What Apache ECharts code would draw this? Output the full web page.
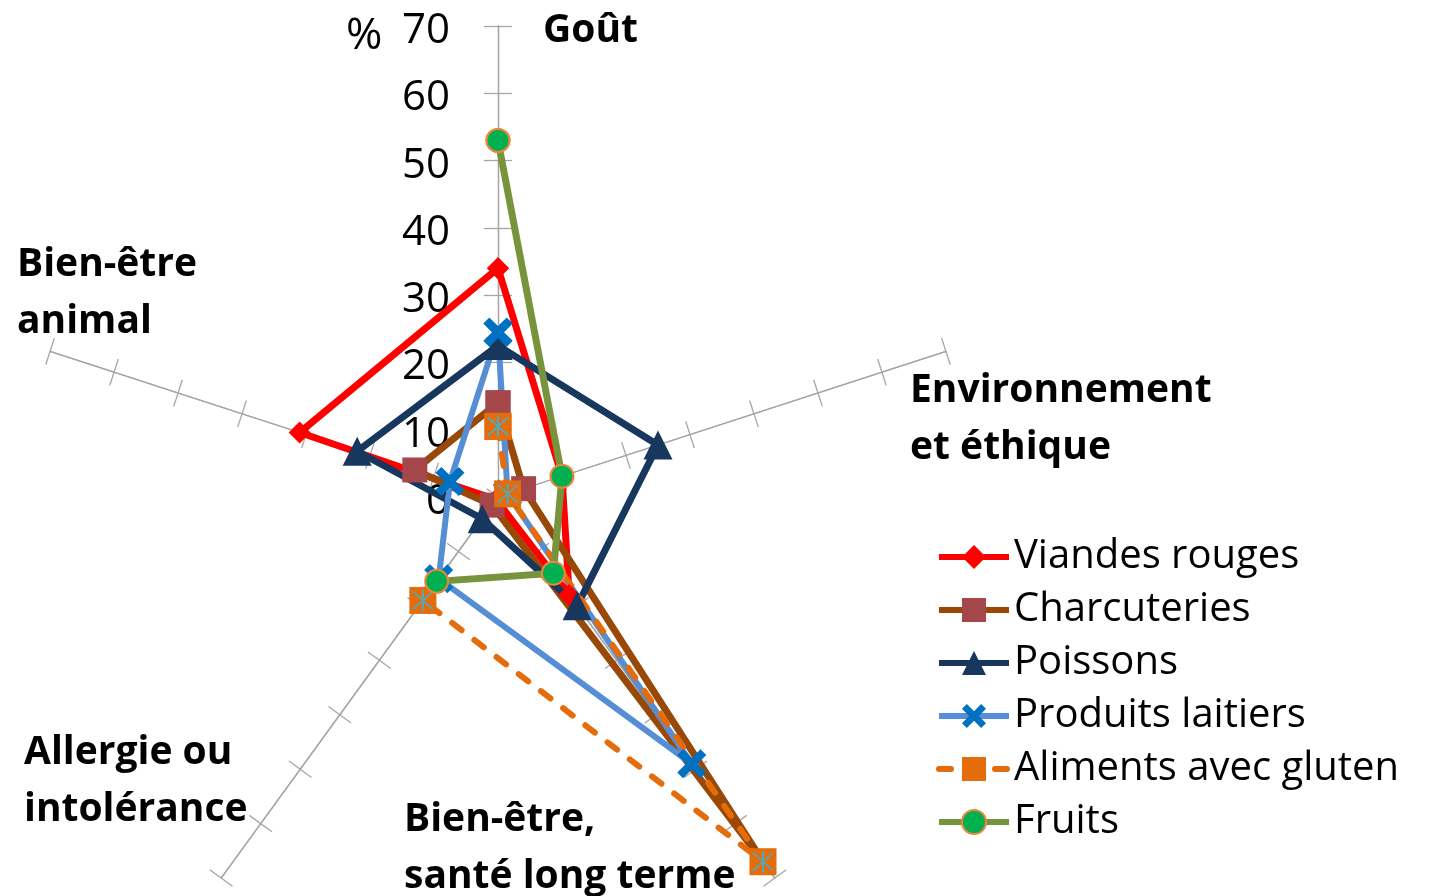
<!DOCTYPE html>
<html><head><meta charset="utf-8">
<script src="https://cdn.jsdelivr.net/npm/echarts@6/dist/echarts.min.js"></script>
<style>html,body{margin:0;padding:0;background:#fff}#c{width:1429px;height:896px}</style>
</head><body><div id="c"></div>
<script>
// ---- data ----
const categories = ['Goût', 'Environnement\net éthique', 'Bien-être,\nsanté long terme', 'Allergie ou\nintolérance', 'Bien-être\nanimal'];
const seriesNames = ['Viandes rouges', 'Charcuteries', 'Poissons', 'Produits laitiers', 'Aliments avec gluten', 'Fruits'];
const viandesRouges = [34, 10, 18, 0.5, 31];
const charcuteries = [14, 4, 67, 1.5, 13];
const poissons = [22.5, 25, 20, 4, 22];
const produitsLaitiers = [24.5, 1.5, 49, 15, 7.5];
const alimentsGluten = [10.5, 1.5, 67, 19, null];
const fruits = [53, 10, 14, 15.5, null];
const axisMax = 70;
const axisStep = 10;
const unitLabel = '%';

// ---- layout / style ----
const CX = 498, CY = 497, R = 471;
const FONT = '"Open Sans", "Noto Sans", sans-serif';
const n = categories.length;
function toPolar(vals) {
  return vals.concat([vals[0]]).map((v, i) => [v == null ? null : v, i * 360 / n]);
}
// ECharts radar goes counter-clockwise; Excel goes clockwise
const radarOrder = [0, 4, 3, 2, 1];
const labelPlacement = [
  {x: 543, y: 2},
  {x: 910, y: 362},
  {x: 404, y: 791},
  {x: 24, y: 724},
  {x: 17, y: 236}
];
const xPath = 'path://M-10,-6 L-6,-10 L0,-4 L6,-10 L10,-6 L4,0 L10,6 L6,10 L0,4 L-6,10 L-10,6 L-4,0 Z';
const starPath = 'path://M-9,-8 L-8,-9 L9,8 L8,9 Z M9,-8 L8,-9 L-9,8 L-8,9 Z M-0.8,-10 L0.8,-10 L0.8,10 L-0.8,10 Z';

const styles = [
  {line: {color: '#FF0000', width: 7}, item: {color: '#FF0000'}, symbol: 'diamond', size: 22},
  {line: {color: '#984807', width: 7}, item: {color: '#A5474A'}, symbol: 'rect', size: 25},
  {line: {color: '#17375E', width: 7}, item: {color: '#17375E'}, symbol: 'triangle', size: 29},
  {line: {color: '#558ED5', width: 6}, item: {color: '#0070C0'}, symbol: xPath, size: 29},
  {line: {color: '#E46C0A', width: 6, type: [12, 16], cap: 'round'}, item: {color: '#E46C0A'}, symbol: 'rect', size: 27},
  {line: {color: '#77933C', width: 7}, item: {color: '#00B050', borderColor: '#E9873A', borderWidth: 2}, symbol: 'circle', size: 23}
];
const allValues = [viandesRouges, charcuteries, poissons, produitsLaitiers, alimentsGluten, fruits];

const series = [];
allValues.forEach((vals, k) => {
  const s = styles[k];
  series.push({
    type: 'line', coordinateSystem: 'polar', name: seriesNames[k],
    data: toPolar(vals), connectNulls: false,
    symbol: s.symbol, symbolSize: s.size, showAllSymbol: true,
    lineStyle: s.line, itemStyle: s.item, silent: true
  });
  if (k === 4) {
    series.push({
      type: 'line', coordinateSystem: 'polar', name: 'gluten-star',
      data: toPolar(vals), connectNulls: false,
      symbol: starPath, symbolSize: 21,
      lineStyle: {width: 0, opacity: 0}, itemStyle: {color: '#4BACC6'}, silent: true
    });
  }
});

const chart = echarts.init(document.getElementById('c'), null, {renderer: 'canvas'});
chart.setOption({
  animation: false,
  backgroundColor: '#fff',
  radar: [14, -14].map(len => ({
    center: [CX, CY], radius: R, startAngle: 90, splitNumber: axisMax / axisStep,
    indicator: radarOrder.map(i => ({name: categories[i], min: 0, max: axisMax})),
    axisName: {show: false},
    axisLine: {lineStyle: {color: '#A6A6A6', width: 1.3}},
    axisTick: {show: true, length: len, lineStyle: {color: '#A6A6A6', width: 1.3}},
    axisLabel: {show: false},
    splitLine: {show: false}, splitArea: {show: false}
  })),
  polar: {center: [CX, CY], radius: R},
  angleAxis: {type: 'value', min: 0, max: 360, startAngle: 90, clockwise: true, show: false},
  radiusAxis: {
    type: 'value', min: 0, max: axisMax, interval: axisStep,
    axisLine: {show: false}, axisTick: {show: false}, splitLine: {show: false},
    axisLabel: {
      show: true, margin: 48, formatter: '{t|{value}}',
      rich: {t: {fontSize: 42, fontFamily: FONT, color: '#000', padding: [10, 0, 0, 0]}}
    }
  },
  legend: {
    orient: 'vertical', left: 936, top: 537, padding: 0,
    itemWidth: 70, itemHeight: 30, itemGap: 13, selectedMode: false,
    data: seriesNames,
    lineStyle: {width: 6},
    textStyle: {fontSize: 40, fontFamily: FONT, color: '#000', lineHeight: 40}
  },
  graphic: categories.map((t, i) => ({
    type: 'text', x: labelPlacement[i].x, y: labelPlacement[i].y, silent: true,
    style: {text: t, fontSize: 39, fontWeight: 'bold', fontFamily: FONT, fill: '#000',
            lineHeight: 57, verticalAlign: 'top', align: 'left'}
  })).concat([{
    type: 'text', x: 346, y: 14, silent: true,
    style: {text: unitLabel, fontSize: 44, fontFamily: FONT, fill: '#000', verticalAlign: 'top', align: 'left'}
  }]),
  series: series
});
</script></body></html>
